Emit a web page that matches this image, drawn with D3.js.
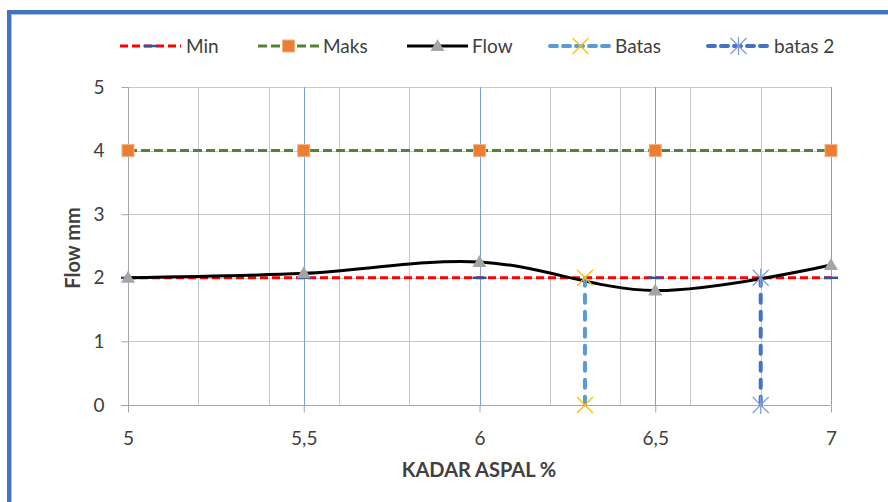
<!DOCTYPE html>
<html>
<head>
<meta charset="utf-8">
<script src="https://cdn.jsdelivr.net/npm/d3@7"></script>
<style>
  html, body { margin: 0; padding: 0; background: #ffffff; }
  svg { display: block; }
  text { font-family: Lato, "Open Sans", sans-serif; fill: #404040; }
</style>
</head>
<body>
<svg id="chart" width="888" height="502"></svg>
<script>
// Asphalt content (%) at which each mix was tested
const kadarAspal = [5, 5.5, 6, 6.5, 7];
// Specification limits and measured flow (mm)
const minFlow = [2, 2, 2, 2, 2];
const maksFlow = [4, 4, 4, 4, 4];
const flowValues = [2.0, 2.07, 2.25, 1.8, 2.2];
// Vertical limit markers
const batasX = [6.3, 6.3];
const batasY = [2, 0];
const batas2X = [6.8, 6.8];
const batas2Y = [2, 0];
// Axis ticks
const xTicks = [5, 5.5, 6, 6.5, 7];
const xMinorGrid = [5.2, 5.4, 5.6, 5.8, 6.2, 6.4, 6.6, 6.8];
const xMajorGrid = [5.5, 6, 6.5, 7];
const yTicks = [0, 1, 2, 3, 4, 5];
const legendLabels = ["Min", "Maks", "Flow", "Batas", "batas 2"];

const svg = d3.select("#chart");

const x = d3.scaleLinear().domain([5, 7]).range([128, 831]);
const y = d3.scaleLinear().domain([0, 5]).range([405, 87]);

// Chart frame (blue border on top and left)
svg.append("path")
  .attr("d", "M9,502 V12 H888")
  .attr("fill", "none").attr("stroke", "#4472C4").attr("stroke-width", 4);
svg.append("path")
  .attr("d", "M11.5,502 V14.5 H888")
  .attr("fill", "none").attr("stroke", "#A9C4EB").attr("stroke-width", 1);

// Gridlines
const grid = svg.append("g");
grid.selectAll(".hg").data(yTicks.filter(d => d > 0)).join("line")
  .attr("x1", x(5)).attr("x2", x(7))
  .attr("y1", d => Math.round(y(d)) + 0.5).attr("y2", d => Math.round(y(d)) + 0.5)
  .attr("stroke", "#C8C8C8").attr("stroke-width", 1);
grid.selectAll(".vg").data(xMinorGrid).join("line")
  .attr("x1", d => Math.round(x(d)) + 0.5).attr("x2", d => Math.round(x(d)) + 0.5)
  .attr("y1", y(5)).attr("y2", y(0))
  .attr("stroke", "#C8C8C8").attr("stroke-width", 1);
grid.selectAll(".vb").data(xMajorGrid).join("line")
  .attr("x1", d => Math.round(x(d)) + 0.5).attr("x2", d => Math.round(x(d)) + 0.5)
  .attr("y1", y(5)).attr("y2", y(0))
  .attr("stroke", "#7F9FD8").attr("stroke-width", 1);

// Axes
const fmt = d => String(d).replace(".", ",");
const xAxis = svg.append("g")
  .attr("transform", `translate(0,${Math.round(y(0)) + 0.5})`)
  .call(d3.axisBottom(x).tickValues(xTicks).tickFormat(fmt).tickSize(7).tickPadding(19));
const yAxis = svg.append("g")
  .attr("transform", `translate(${Math.round(x(5)) + 0.5},0)`)
  .call(d3.axisLeft(y).tickValues(yTicks).tickFormat(fmt).tickSize(7).tickPadding(17));
[xAxis, yAxis].forEach(a => {
  a.select(".domain").remove();
  a.selectAll(".tick line").attr("stroke", "#A6A6A6");
  a.selectAll(".tick text").attr("font-size", 19).attr("fill", "#404040")
    .attr("font-family", "Lato, sans-serif");
});
// Base lines of both axes
svg.append("line").attr("x1", x(5) - 7).attr("x2", x(7))
  .attr("y1", Math.round(y(0)) + 0.5).attr("y2", Math.round(y(0)) + 0.5)
  .attr("stroke", "#A6A6A6");
svg.append("line").attr("x1", Math.round(x(5)) + 0.5).attr("x2", Math.round(x(5)) + 0.5)
  .attr("y1", y(5)).attr("y2", y(0))
  .attr("stroke", "#A6A6A6");

// Axis titles
svg.append("text").attr("x", 479).attr("y", 477).attr("text-anchor", "middle")
  .attr("font-size", 20).attr("font-weight", "bold").attr("fill", "#1a1a1a")
  .text("KADAR ASPAL %");
svg.append("text").attr("transform", "translate(80,248) rotate(-90)")
  .attr("text-anchor", "middle")
  .attr("font-size", 20).attr("font-weight", "bold").attr("fill", "#1a1a1a")
  .text("Flow mm");

// Marker drawing helpers
function markMin(g, cx, cy) {
  g.append("line").attr("x1", cx - 7).attr("x2", cx + 7).attr("y1", cy).attr("y2", cy)
    .attr("stroke", "#2F5597").attr("stroke-width", 2.5);
}
function markSquare(g, cx, cy) {
  g.append("rect").attr("x", cx - 6).attr("y", cy - 6).attr("width", 12).attr("height", 12)
    .attr("fill", "#ED7D31").attr("stroke", "#F4B183").attr("stroke-width", 1);
}
function markTriangle(g, cx, cy) {
  g.append("path").attr("d", `M${cx},${cy - 7} L${cx + 7},${cy + 5} L${cx - 7},${cy + 5} Z`)
    .attr("fill", "#A5A5A5");
}
function markX(g, cx, cy) {
  g.append("path").attr("d", `M${cx - 8},${cy - 8} L${cx + 8},${cy + 8} M${cx - 8},${cy + 8} L${cx + 8},${cy - 8}`)
    .attr("stroke", "#FFC000").attr("stroke-width", 1.3).attr("fill", "none");
}
function markStar(g, cx, cy) {
  g.append("path").attr("d", `M${cx - 8},${cy - 8} L${cx + 8},${cy + 8} M${cx - 8},${cy + 8} L${cx + 8},${cy - 8} M${cx},${cy - 9} L${cx},${cy + 9}`)
    .attr("stroke", "#7F9FD8").attr("stroke-width", 1.3).attr("fill", "none");
}

const line = d3.line().x(d => x(d[0])).y(d => y(d[1]));
const smooth = d3.line().x(d => x(d[0])).y(d => y(d[1])).curve(d3.curveCatmullRom.alpha(0.5));
const series = svg.append("g");

// Min
series.append("path").datum(d3.zip(kadarAspal, minFlow)).attr("d", line)
  .attr("fill", "none").attr("stroke", "#FF0000").attr("stroke-width", 3).attr("stroke-dasharray", "8,4");
kadarAspal.forEach((k, i) => markMin(series, x(k), y(minFlow[i])));

// Maks
series.append("path").datum(d3.zip(kadarAspal, maksFlow)).attr("d", line)
  .attr("fill", "none").attr("stroke", "#548235").attr("stroke-width", 3).attr("stroke-dasharray", "9,4");
kadarAspal.forEach((k, i) => markSquare(series, x(k), y(maksFlow[i])));

// Flow
series.append("path").datum(d3.zip(kadarAspal, flowValues)).attr("d", smooth)
  .attr("fill", "none").attr("stroke", "#000000").attr("stroke-width", 3);
kadarAspal.forEach((k, i) => markTriangle(series, x(k), y(flowValues[i])));

// Batas
series.append("path").datum(d3.zip(batasX, batasY)).attr("d", line)
  .attr("fill", "none").attr("stroke", "#5B9BD5").attr("stroke-width", 4)
  .attr("stroke-dasharray", "8,9").attr("stroke-linecap", "round");
batasX.forEach((k, i) => markX(series, x(k), y(batasY[i])));

// batas 2
series.append("path").datum(d3.zip(batas2X, batas2Y)).attr("d", line)
  .attr("fill", "none").attr("stroke", "#4472C4").attr("stroke-width", 4)
  .attr("stroke-dasharray", "8,9").attr("stroke-linecap", "round");
batas2X.forEach((k, i) => markStar(series, x(k), y(batas2Y[i])));

// Legend
const legendItems = [
  { x: 120, textX: 186, stroke: "#FF0000", dash: "8,4", w: 3, cap: "butt", mark: markMin },
  { x: 258, textX: 323, stroke: "#548235", dash: "9,4", w: 3, cap: "butt", mark: markSquare },
  { x: 407, textX: 472, stroke: "#000000", dash: null, w: 3, cap: "butt", mark: markTriangle },
  { x: 550, textX: 615, stroke: "#5B9BD5", dash: "7,6", w: 4, cap: "round", mark: markX },
  { x: 708, textX: 774, stroke: "#4472C4", dash: "7,6", w: 4, cap: "round", mark: markStar }
];
const legend = svg.append("g");
legendItems.forEach((it, i) => {
  const ly = 46;
  legend.append("line").attr("x1", it.x).attr("x2", it.x + 61).attr("y1", ly).attr("y2", ly)
    .attr("stroke", it.stroke).attr("stroke-width", it.w)
    .attr("stroke-dasharray", it.dash).attr("stroke-linecap", it.cap);
  it.mark(legend, it.x + 30.5, ly);
  legend.append("text").attr("x", it.textX).attr("y", ly + 7)
    .attr("font-size", 19).attr("fill", "#404040").text(legendLabels[i]);
});
</script>
</body>
</html>
